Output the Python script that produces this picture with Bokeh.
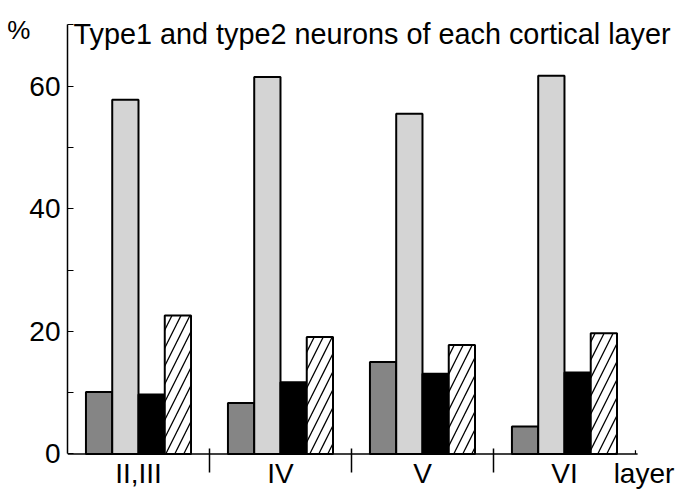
from bokeh.plotting import figure
from bokeh.models import ColumnDataSource, FixedTicker, LinearAxis, Range1d, Label
from bokeh.embed import file_html
from bokeh.resources import INLINE

# ---- data ----
layers = ["II,III", "IV", "V", "VI"]
type_a = [10.1, 8.3, 15.0, 4.5]     # dark stipple
type_b = [57.8, 61.5, 55.5, 61.7]   # light stipple
type_c = [9.7, 11.7, 13.1, 13.3]    # black
type_d = [22.6, 19.1, 17.8, 19.7]   # hatched
y_ticks = [0, 20, 40, 60, 70]
y_minor = [10, 30, 50]
layer_bounds = [1, 2, 3]
x_title = "layer"
y_title = "%"
chart_title = "Type1 and type2 neurons of each cortical layer"

FONT = "Liberation Sans"
N = len(layers)

p = figure(width=677, height=499, x_range=Range1d(0, 4.296), y_range=Range1d(-0.245, 72.19),
           x_axis_type=None, y_axis_type=None, output_backend="svg",
           toolbar_location=None, min_border_left=67, min_border_right=0,
           min_border_top=11, min_border_bottom=44)
p.outline_line_color = None
p.xgrid.visible = False
p.ygrid.visible = False
p.background_fill_color = "white"
p.border_fill_color = "white"

# left axis
yax = LinearAxis(ticker=FixedTicker(ticks=y_ticks, minor_ticks=y_minor),
                 major_label_overrides={70: ""}, bounds=(0, 70))
yax.axis_line_width = 1.5
yax.axis_line_color = "black"
yax.major_tick_in = 6
yax.major_tick_out = 0
yax.minor_tick_in = 6
yax.minor_tick_out = 0
yax.major_tick_line_width = 1.2
yax.minor_tick_line_width = 1.2
yax.major_label_text_font = FONT
yax.major_label_text_font_size = "28px"
yax.major_label_text_color = "black"
yax.major_label_standoff = 7
yax.axis_label = "\n" + y_title
yax.axis_label_orientation = "horizontal"
yax.axis_label_standoff = -4
yax.axis_label_text_font = FONT
yax.axis_label_text_font_size = "26px"
yax.axis_label_text_font_style = "normal"
yax.axis_label_text_color = "black"
try:
    yax.axis_label_align = "end"
except Exception:
    pass
p.add_layout(yax, "left")

# bottom axis: labels at layer centres (+ axis title), boundary marks as minor ticks
centers = [k + 0.5 for k in range(N)]
x_title_pos = N + 0.06
xax = LinearAxis(ticker=FixedTicker(ticks=centers + [x_title_pos], minor_ticks=layer_bounds),
                 major_label_overrides={**{c: n for c, n in zip(centers, layers)},
                                        x_title_pos: x_title})
xax.axis_line_color = None
xax.major_tick_line_color = None
xax.major_tick_in = 0
xax.major_tick_out = 0
xax.minor_tick_in = 7
xax.minor_tick_out = 17
xax.minor_tick_line_width = 1.5
xax.minor_tick_line_color = "black"
xax.major_label_text_font = FONT
xax.major_label_text_font_size = "28px"
xax.major_label_text_color = "black"
xax.major_label_standoff = -15
p.add_layout(xax, "below")

# x axis line (ends just past the last layer) with a small end mark
p.segment(x0=[0], y0=[0], x1=[N + 0.015], y1=[0], line_color="black", line_width=1.5)
p.segment(x0=[N], y0=[0], x1=[N], y1=[0.6], line_color="black", line_width=1.2)

# bars
w = 0.185
series = [
    (type_a, dict(fill_color="#858585")),
    (type_b, dict(fill_color="#d4d4d4")),
    (type_c, dict(fill_color="black")),
    (type_d, dict(fill_color="white", hatch_pattern="/", hatch_color="black",
                  hatch_scale=18, hatch_weight=1.3)),
]
for j, (vals, style) in enumerate(series):
    xs = [k + 0.5 + (j - 1.5) * w for k in range(N)]
    src = ColumnDataSource(dict(x=xs, top=vals))
    p.vbar(x="x", top="top", bottom=0, width=w, source=src,
           line_color="black", line_width=2, **style)

p.add_layout(Label(x=6, y=68.6, x_units="screen", y_units="data", text=chart_title,
                   text_align="left", text_baseline="alphabetic",
                   text_font=FONT, text_font_size="28.8px", text_color="black"))

open("out.html", "w").write(file_html(p, INLINE))
